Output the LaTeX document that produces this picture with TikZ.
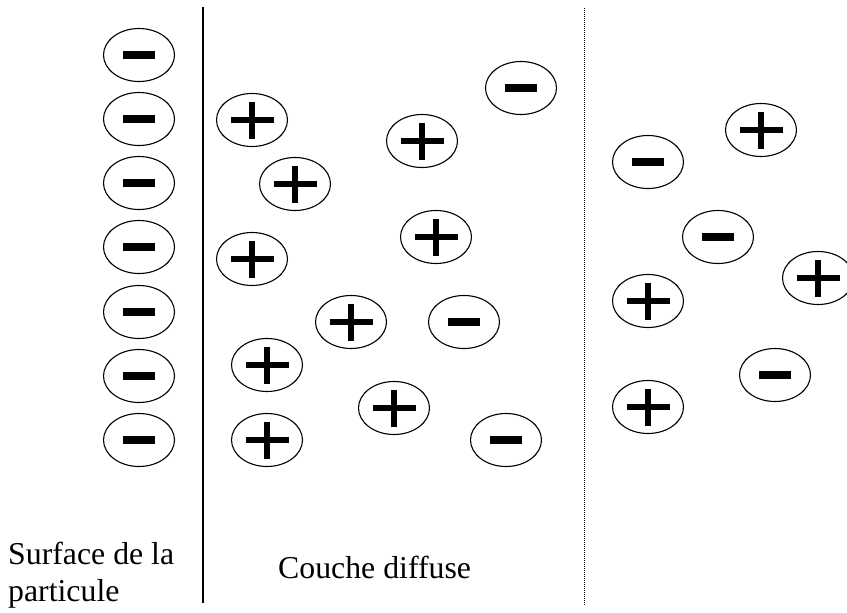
\documentclass[tikz,border=0pt]{standalone}
\usepackage{fontspec}
\setmainfont{Liberation Serif}
\usetikzlibrary{shapes.geometric}
\tikzset{
  ion/.style={draw, ellipse, line width=1.1pt, minimum width=71pt, minimum height=53pt, inner sep=0pt},
  anion/.style={ion, path picture={
      \fill ([xshift=-16pt,yshift=-4pt]path picture bounding box.center) rectangle ++(32pt,8pt);}},
  cation/.style={ion, path picture={
      \fill ([xshift=-21.5pt,yshift=-3pt]path picture bounding box.center) rectangle ++(43pt,6pt);
      \fill ([xshift=-3pt,yshift=-18.5pt]path picture bounding box.center) rectangle ++(6pt,37pt);}},
  legend/.style={font=\fontsize{31.8}{37}\selectfont, inner sep=0pt, anchor=base west, align=left}
}
\begin{document}
\begin{tikzpicture}[x=1pt,y=-1pt]
			\useasboundingbox (0,0) rectangle (847,613);
			% surface de la particule
			\coordinate (surfTop) at (203,7);
			\coordinate (surfBot) at (203,603);
			\draw[line width=1.3pt] (surfTop) -- (surfBot);
			\foreach \i/\y in {1/55,2/119,3/183,4/247,5/312,6/376,7/440}
				\node[anion] (s\i) at (139,\y) {};
			% couche diffuse
			\foreach \n/\x/\y in {a/252/120,b/295/184,c/252/259,d/422/141,e/436/237,f/351/322,g/267/365,h/394/408,i/267/440}
				\node[cation] (p\n) at (\x,\y) {};
			\foreach \n/\x/\y in {a/521/88,b/464/322,c/506/440}
				\node[anion] (m\n) at (\x,\y) {};
			% limite de la couche
			\coordinate (limTop) at (584,8);
			\coordinate (limBot) at (584,605);
			\draw[line width=1pt, dash pattern=on 1pt off 1pt] (limTop) -- (limBot);
			% solution
			\foreach \n/\x/\y in {a/761/130,b/818/278,c/648/301,d/648/407}
				\node[cation] (q\n) at (\x,\y) {};
			\foreach \n/\x/\y in {a/648/162,b/718/237,c/775/375}
				\node[anion] (r\n) at (\x,\y) {};
			% textes
			\node[legend] (surf) at (8,601) {Surface de la\\particule};
			\node[legend] (couche) at (278,578) {Couche diffuse};
		\end{tikzpicture}
\end{document}
